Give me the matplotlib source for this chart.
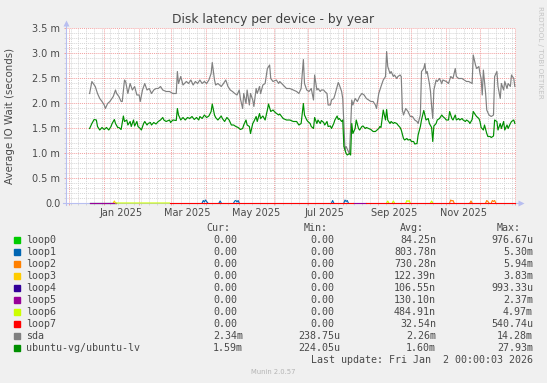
import numpy as np
import matplotlib
matplotlib.use("Agg")
import matplotlib.pyplot as plt
from matplotlib.patches import Rectangle

nan = np.nan

# ---- data (days since 2024-11-28, values in ms) ----
start_day = np.datetime64("2024-11-28")
end_day = np.datetime64("2026-01-02")

sda_day = [21, 23, 26, 28, 30, 32, 34, 35, 37, 39, 42, 44, 45, 47, 49, 50, 52, 53, 55, 57,
           59, 61, 63, 65, 66, 68, 70, 72, 74, 76, 78, 80, 82, 84, 86, 89, 92, 95, 98, 99,
           100, 102, 104, 107, 109, 111, 113, 115, 117, 119, 121, 123, 125, 127, 129, 130, 132, 133, 135, 138,
           140, 142, 144, 146, 148, 150, 152, 154, 155, 157, 158, 160, 161, 163, 164, 166, 167, 169, 170, 172,
           173, 175, 177, 179, 181, 182, 184, 187, 189, 190,
           193, 196, 199, 202, 205, 207, 209, 211, 212, 214, 216, 218, 220, 221, 223, 224, 226, 227, 229, 230,
           232, 233, 235, 236, 238, 239, 241, 242, 243, 245, 246, 248, 249, 251, 252, 254, 255, 257, 259, 261,
           263, 265, 267, 269, 271, 273, 275, 276, 278, 279, 280, 282, 284, 285, 286, 288, 289, 291, 292, 294,
           295, 297, 298, 299, 300, 302, 304, 306, 308, 310, 312, 313, 315, 316, 318, 319, 320, 321, 323, 324,
           325, 326, 327, 329, 330, 332, 334, 335, 338, 340, 342, 344, 346, 347, 349, 352, 354, 356, 358, 361,
           362, 364, 365, 367, 368, 369, 370, 371, 373, 374, 376, 378, 380, 381, 383, 384, 386, 387, 389, 390,
           392, 393, 395, 396, 398, 399]
sda_ms = [2.19, 2.43, 2.33, 2.19, 2.09, 2.03, 1.96, 1.89, 1.99, 2.03, 2.13, 2.26, 2.19, 2.13, 2.03, 2.03, 2.46, 2.43, 2.19, 2.39,
          2.26, 2.33, 2.16, 2.16, 2.03, 2.26, 2.39, 2.26, 2.29, 2.19, 2.26, 2.29, 2.29, 2.33, 2.26, 2.23, 2.23, 2.19, 2.19, 2.63,
          2.39, 2.53, 2.36, 2.43, 2.39, 2.46, 2.36, 2.43, 2.39, 2.46, 2.39, 2.43, 2.39, 2.46, 2.59, 2.81, 2.46, 2.36, 2.39, 2.33,
          2.39, 2.46, 2.33, 2.26, 2.23, 2.19, 2.16, 2.26, 2.09, 1.89, 2.19, 1.99, 2.26, 1.96, 2.19, 2.06, 1.93, 2.29, 2.19, 2.33,
          2.19, 2.36, 2.39, 2.69, 2.76, 2.49, 2.43, 2.46, 2.39, 2.43,
          2.36, 2.29, 2.29, 2.26, 2.23, 2.19, 2.29, 2.87, 2.39, 2.26, 2.23, 2.29, 2.06, 2.56, 2.26, 2.29, 2.23, 2.26, 2.26, 2.23,
          2.19, 1.96, 1.96, 2.06, 2.09, 2.16, 2.33, 2.41, 2.36, 2.23, 2.09, 1.06, 1.13, 1.03, 0.99, 2.06, 1.96, 2.09, 2.03, 2.13,
          2.19, 2.16, 2.09, 2.06, 2.03, 2.03, 1.96, 1.89, 2.19, 2.26, 2.33, 2.46, 2.53, 3.03, 2.73, 2.59, 2.63, 2.53, 2.56, 2.49,
          2.53, 2.56, 2.53, 1.86, 1.76, 1.89, 1.83, 1.73, 1.73, 1.66, 1.63, 1.59, 1.76, 2.63, 2.69, 2.79, 2.59, 2.63, 2.39, 2.23,
          1.93, 1.69, 2.26, 2.46, 2.43, 2.49, 2.39, 2.46, 2.43, 2.39, 2.53, 2.49, 2.69, 2.53, 2.49, 2.49, 2.46, 2.43, 2.43, 2.39,
          2.96, 2.76, 2.69, 2.73, 2.59, 2.49, 2.16, 2.66, 2.19, 1.86, 1.76, 1.73, 1.76, 2.53, 2.63, 2.33, 2.09, 2.39, 2.26, 2.43,
          2.29, 2.39, 2.33, 2.56, 2.49, 2.33]

lv_day = [21, 23, 25, 27, 28, 30, 32, 34, 36, 38, 40, 41, 43, 44, 46, 47, 49, 51, 52, 54,
          55, 57, 58, 60, 61, 63, 64, 66, 67, 69, 70, 72, 73, 75, 76, 78, 80, 82, 84, 86,
          87, 89, 92, 93, 95, 98, 99, 100, 102, 104, 106, 108, 110, 112, 114, 116, 118, 119, 121, 123,
          125, 127, 129, 130, 132, 133, 135, 138, 139, 141, 143, 145, 147, 149, 151, 153, 155, 157, 158, 160,
          161, 163, 164, 166, 167, 169, 170, 172, 173, 175, 177, 179, 180, 182, 184, 186, 189, 190,
          193, 196, 199, 202, 205, 207, 209, 211, 212, 214, 215, 217, 218, 220, 221, 223, 224, 226, 227, 229,
          230, 232, 233, 235, 236, 238, 239, 241, 242, 243, 245, 246, 247, 249, 250, 252, 253, 254, 255, 257,
          258, 260, 261, 263, 264, 266, 267, 269, 271, 273, 275, 278, 279, 280, 282, 284, 285, 286, 288, 289,
          291, 292, 294, 295, 297, 298, 300, 301, 303, 304, 306, 307, 309, 310, 312, 313, 315, 316, 318, 319,
          320, 322, 323, 325, 326, 327, 329, 330, 332, 334, 335, 337, 338, 340, 341, 343, 344, 346, 347, 349,
          350, 352, 353, 355, 356, 358, 359, 361, 362, 364, 365, 367, 368, 369, 371, 372, 374, 375, 377, 378,
          380, 381, 383, 384, 386, 387, 389, 390, 392, 393, 395, 396, 398, 399]
lv_ms = [1.49, 1.59, 1.67, 1.66, 1.53, 1.46, 1.51, 1.47, 1.51, 1.46, 1.53, 1.59, 1.67, 1.59, 1.51, 1.51, 1.47, 1.74, 1.63, 1.66,
         1.56, 1.63, 1.53, 1.66, 1.54, 1.63, 1.53, 1.49, 1.46, 1.59, 1.63, 1.56, 1.59, 1.61, 1.56, 1.61, 1.58, 1.63, 1.66, 1.71,
         1.66, 1.63, 1.66, 1.61, 1.66, 1.65, 1.89, 1.76, 1.66, 1.71, 1.66, 1.71, 1.69, 1.73, 1.67, 1.71, 1.66, 1.73, 1.69, 1.76,
         1.71, 1.74, 1.83, 1.98, 1.76, 1.71, 1.66, 1.74, 1.69, 1.63, 1.71, 1.66, 1.56, 1.56, 1.53, 1.51, 1.47, 1.49, 1.56, 1.66,
         1.56, 1.53, 1.39, 1.59, 1.63, 1.73, 1.63, 1.79, 1.69, 1.74, 1.66, 1.86, 1.98, 1.83, 1.86, 1.81, 1.76, 1.78,
         1.69, 1.66, 1.66, 1.63, 1.63, 1.56, 1.59, 1.99, 1.76, 1.66, 1.63, 1.59, 1.53, 1.49, 1.71, 1.59, 1.66, 1.59, 1.65, 1.61,
         1.56, 1.63, 1.53, 1.54, 1.49, 1.59, 1.66, 1.74, 1.67, 1.69, 1.63, 1.66, 1.13, 0.99, 0.96, 0.99, 0.96, 1.59, 1.39, 1.49,
         1.66, 1.49, 1.46, 1.53, 1.54, 1.49, 1.51, 1.49, 1.47, 1.43, 1.43, 1.49, 1.53, 1.51, 1.86, 1.66, 1.87, 1.66, 1.59, 1.63,
         1.59, 1.61, 1.59, 1.56, 1.51, 1.46, 1.29, 1.26, 1.29, 1.26, 1.27, 1.23, 1.23, 1.18, 1.19, 1.36, 1.53, 1.66, 1.85, 1.76,
         1.66, 1.69, 1.59, 1.51, 1.23, 1.54, 1.59, 1.66, 1.69, 1.76, 1.73, 1.69, 1.66, 1.66, 1.83, 1.69, 1.66, 1.76, 1.66, 1.69,
         1.66, 1.69, 1.66, 1.63, 1.66, 1.63, 1.59, 1.67, 1.83, 1.76, 1.73, 1.69, 1.63, 1.51, 1.46, 1.56, 1.39, 1.33, 1.33, 1.31,
         1.34, 1.66, 1.63, 1.46, 1.59, 1.49, 1.63, 1.46, 1.56, 1.49, 1.59, 1.63, 1.66, 1.59]

# loop devices: almost always 0, a few tiny bumps (nan = no data)
loop0_day = [21, 44]
loop0_ms = [0, 0]
loop1_day = [121, 122, 123, 124, 125, 126, 127, 136, 137, 138, 139, 149, 150, 151, 152, 153, 154, 155,
             236, 237, 238, 239, 247, 248, 249, 250, 251]
loop1_ms = [0, 0.05, 0.02, 0.06, 0.03, 0, nan, 0, 0.04, 0, nan, 0, 0.04, 0.05, 0.02, 0.05, 0, nan,
            0, 0.05, 0, nan, 0, 0.06, 0.03, 0.05, 0]
loop2_day = [341, 342, 343, 344, 345, 346, 359, 360, 361, 362, 373, 374, 375, 376, 377, 378, 379, 380, 381, 382]
loop2_ms = [0, 0.06, 0.04, 0.05, 0, nan, 0, 0.04, 0, nan, 0, 0.05, 0.03, 0, nan, 0, 0.05, 0.03, 0.05, 0]
loop3_day = [42, 43, 44]
loop3_ms = [0, 0.04, 0]
loop4_day = [21, 44]
loop4_ms = [0, 0]
loop5_day = [21, 44, 45, 255, 267]
loop5_ms = [0, 0, nan, 0, 0]
loop6_day = [44, 92, 93, 285, 286, 287, 288, 290, 291, 292, 293, 302, 303, 304, 305, 306, 307, 324, 325, 326]
loop6_ms = [0, 0, nan, 0, 0.04, 0, nan, 0, 0.04, 0, nan, 0, 0.05, 0.03, 0.05, 0, nan, 0, 0.04, 0]
loop7_day = [92, 255, 256, 267, 399]
loop7_ms = [0, 0, nan, 0, 0]

series_names = ["loop0", "loop1", "loop2", "loop3", "loop4", "loop5", "loop6", "loop7",
                "sda", "ubuntu-vg/ubuntu-lv"]
series_colors = ["#00CC00", "#0066B3", "#FF8000", "#FFCC00", "#330099", "#990099",
                 "#CCFF00", "#FF0000", "#808080", "#008F00"]
cur_txt = ["0.00", "0.00", "0.00", "0.00", "0.00", "0.00", "0.00", "0.00", "2.34m", "1.59m"]
min_txt = ["0.00", "0.00", "0.00", "0.00", "0.00", "0.00", "0.00", "0.00", "238.75u", "224.05u"]
avg_txt = ["84.25n", "803.78n", "730.28n", "122.39n", "106.55n", "130.10n", "484.91n", "32.54n",
           "2.26m", "1.60m"]
max_txt = ["976.67u", "5.30m", "5.94m", "3.83m", "993.33u", "2.37m", "4.97m", "540.74u",
           "14.28m", "27.93m"]

y_ticks = [0.0, 0.5, 1.0, 1.5, 2.0, 2.5, 3.0, 3.5]
y_labels = ["0.0", "0.5 m", "1.0 m", "1.5 m", "2.0 m", "2.5 m", "3.0 m", "3.5 m"]

# ---- figure ----
W, H = 547, 383
BG = "#F0F0F0"
TXT = "#4A4A4A"
AXIS = "#B8BEF0"
GRID = "#D6D6D6"
MGRID = "#F2A0A0"

fig = plt.figure(figsize=(W / 100, H / 100), dpi=100, facecolor=BG)


def fx(x):
    return x / W


def fy(y):
    return 1 - y / H


ax = fig.add_axes([fx(66), fy(203), 450 / W, 175 / H])
ax.set_facecolor("white")


def to_dates(days):
    return start_day + np.array(days).astype("timedelta64[D]")


loop_data = [(loop0_day, loop0_ms), (loop1_day, loop1_ms), (loop2_day, loop2_ms),
             (loop3_day, loop3_ms), (loop4_day, loop4_ms), (loop5_day, loop5_ms),
             (loop6_day, loop6_ms), (loop7_day, loop7_ms)]
for k, ((d, v), c) in enumerate(zip(loop_data, series_colors[:8])):
    ax.plot(to_dates(d), v, color=c, lw=0.8, zorder=5 + 0.01 * k, clip_on=False)

ax.plot(to_dates(sda_day), sda_ms, color=series_colors[8], lw=0.85, zorder=6)
ax.plot(to_dates(lv_day), lv_ms, color=series_colors[9], lw=0.85, zorder=6.1)

ax.set_xlim(start_day, end_day)
ax.set_ylim(0, 3.5)

month_starts = np.arange(np.datetime64("2024-12"), np.datetime64("2026-02"),
                         dtype="datetime64[M]").astype("datetime64[D]")
mondays = np.arange(np.datetime64("2024-12-02"), end_day, np.timedelta64(7, "D"))
ax.set_xticks(month_starts)
ax.set_xticklabels([])
ax.set_xticks(mondays, minor=True)
ax.set_yticks(y_ticks)
ax.set_yticklabels(y_labels)
ax.set_yticks(np.arange(0.1, 3.5, 0.1), minor=True)
ax.set_xlim(start_day, end_day)

ax.tick_params(which="major", length=1.6, width=0.7, color=MGRID, labelsize=7,
               labelcolor=TXT, pad=2.6)
ax.tick_params(which="minor", length=1.6, width=0.7, color=GRID)
ax.grid(which="major", color=MGRID, lw=0.7, ls=(0, (1, 1)))
ax.grid(which="minor", color=GRID, lw=0.7, ls=(0, (1, 1)))
ax.set_axisbelow(True)
for s in ax.spines.values():
    s.set_visible(False)

# axes with arrows
ax.plot([-0.006, 1.012], [0, 0], color=AXIS, lw=0.8, transform=ax.transAxes,
        clip_on=False, zorder=3)
ax.plot([0, 0], [-0.012, 1.02], color=AXIS, lw=0.8, transform=ax.transAxes,
        clip_on=False, zorder=3)
ax.plot([1.012], [0], marker=">", ms=4, color=AXIS, mec="none", transform=ax.transAxes,
        clip_on=False)
ax.plot([0], [1.03], marker="^", ms=4, color=AXIS, mec="none", transform=ax.transAxes,
        clip_on=False)

# month labels, centred half a month after the grid line
label_months = np.arange(np.datetime64("2025-01"), np.datetime64("2026-01"), 2,
                         dtype="datetime64[M]")
for m in label_months:
    lab = m.astype(object).strftime("%b %Y")
    ax.text(m.astype("datetime64[D]") + np.timedelta64(15, "D"), -0.056, lab,
            transform=ax.get_xaxis_transform(), ha="center", va="center",
            fontsize=7, color=TXT)

fig.text(fx(273.5), fy(19), "Disk latency per device - by year", ha="center", va="center",
         fontsize=8.8, color="#404040")
fig.text(fx(10), fy(116), "Average IO Wait (seconds)", rotation=90, ha="center",
         va="center", fontsize=7.4, color=TXT)
fig.text(fx(540), fy(6), "RRDTOOL / TOBI OETIKER", rotation=270, ha="center", va="top",
         fontsize=5.2, color="#C4C4C4")

# legend table
mono = "DejaVu Sans Mono"
fs = 7.2
cw = 6.1
col_right = [243, 340, 436, 533]
head_y = 228
for name, xr in zip(["Cur:", "Min:", "Avg:", "Max:"], col_right):
    fig.text(fx(xr - 2 * cw), fy(head_y), name, ha="right", va="center", family=mono,
             fontsize=fs, color=TXT)

for i, name in enumerate(series_names):
    yy = 240 + 12 * i
    fig.patches.append(Rectangle((fx(13.5), fy(yy + 3)), 6 / W, 6 / H,
                                 transform=fig.transFigure, color=series_colors[i]))
    fig.text(fx(26), fy(yy), name, ha="left", va="center", family=mono, fontsize=fs,
             color=TXT)
    for vals, xr in zip([cur_txt, min_txt, avg_txt, max_txt], col_right):
        s = vals[i]
        shift = cw if s[-1].isdigit() else 0
        fig.text(fx(xr - shift), fy(yy), s, ha="right", va="center", family=mono,
                 fontsize=fs, color=TXT)

fig.text(fx(533), fy(360), "Last update: Fri Jan  2 00:00:03 2026", ha="right",
         va="center", family=mono, fontsize=fs, color=TXT)
fig.text(fx(273.5), fy(372), "Munin 2.0.57", ha="center", va="center", fontsize=4.9,
         color="#B4B4B4")

fig.savefig("out.png", dpi=100, facecolor=BG)
